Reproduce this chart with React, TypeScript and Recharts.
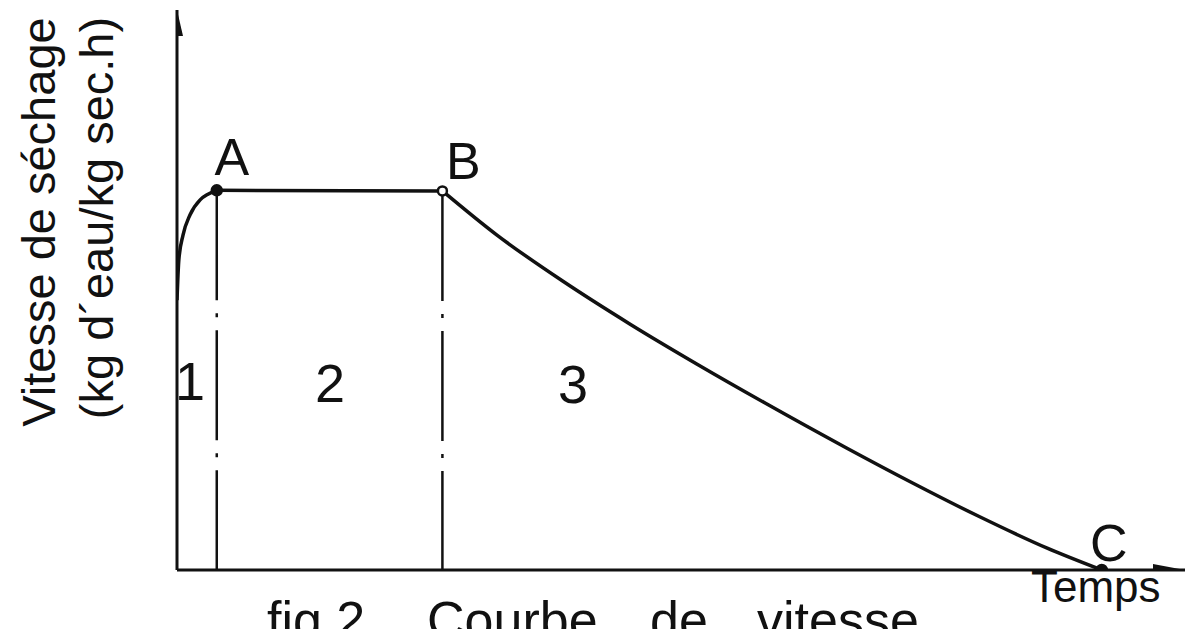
import { ComposedChart, Line, Scatter, XAxis, YAxis, ReferenceLine } from "recharts"

// Courbe de vitesse de séchage (fig. 2),
// unités arbitraires : temps en abscisse, vitesse en ordonnée.
const INK = "#111"
const FONT = "'Liberation Sans', Arial, sans-serif"

const T_MAX = 10.9
const V_MAX = 10

// zone 1 : mise en température
const tempsMontee = [0, 0.02, 0.065, 0.14, 0.25, 0.335, 0.43]
const vitesseMontee = [4.82, 5.54, 5.98, 6.34, 6.61, 6.71, 6.78]
// zone 2 : vitesse constante
const tempsPalier = [0.43, 2.87]
const vitessePalier = [6.78, 6.77]
// zone 3 : vitesse décroissante
const tempsDecroissance = [2.87, 3.46, 4.17, 4.9, 5.62, 6.34, 7.24, 7.96, 8.68, 9.41, 10.0]
const vitesseDecroissance = [6.77, 5.98, 5.16, 4.39, 3.68, 3.0, 2.18, 1.55, 0.95, 0.39, 0]

// points remarquables
const pointNoms = ["A", "B", "C"]
const pointTemps = [0.43, 2.87, 10.0]
const pointVitesse = [6.78, 6.77, 0]

const zoneNoms = ["1", "2", "3"]

const toRows = (ts: number[], vs: number[]) => ts.map((t, i) => ({ t, v: vs[i] }))
const montee = toRows(tempsMontee, vitesseMontee)
const palier = toRows(tempsPalier, vitessePalier)
const decroissance = toRows(tempsDecroissance, vitesseDecroissance)
const points = pointNoms.map((nom, i) => ({ nom, t: pointTemps[i], v: pointVitesse[i] }))

const LABEL_OFFSET: Record<string, [number, number]> = {
  A: [15, -15],
  B: [21, -12],
  C: [7, -9],
}

function PointMark(props: any) {
  const { cx, cy, payload } = props
  const creux = payload.nom === "B"
  const [dx, dy] = LABEL_OFFSET[payload.nom]
  return (
    <g>
      <circle cx={cx} cy={cy} r={creux ? 4.5 : 5} fill={creux ? "#fff" : INK} stroke={INK} strokeWidth={2.5} />
      <text x={cx + dx} y={cy + dy} textAnchor="middle" fontFamily={FONT} fontSize={52} fill={INK}>
        {payload.nom}
      </text>
    </g>
  )
}

function ArrowUp(props: any) {
  const { cx, cy } = props
  return <polygon points={`${cx},${cy} ${cx - 6},${cy + 26} ${cx + 6},${cy + 26}`} fill={INK} />
}

function ArrowRight(props: any) {
  const { cx, cy } = props
  return <polygon points={`${cx},${cy} ${cx - 32},${cy - 6} ${cx - 32},${cy + 6}`} fill={INK} />
}

const textStyle = { fontFamily: FONT, fill: INK }
const zoneX = [190, 330, 573]
const zoneY = [400, 402, 403]

export default function App() {
  return (
    <div style={{ position: "relative", width: 1201, height: 629, background: "#fff" }}>
      <style>{"body{margin:0;background:#fff}"}</style>
      <ComposedChart
        width={1201}
        height={629}
        margin={{ top: 10, right: 16, bottom: 59, left: 177 }}
      >
        <XAxis type="number" dataKey="t" domain={[0, T_MAX]} hide allowDataOverflow />
        <YAxis type="number" dataKey="v" domain={[0, V_MAX]} hide allowDataOverflow />

        {/* axes */}
        <ReferenceLine segment={[{ x: 0, y: 0 }, { x: 0, y: V_MAX }]} stroke={INK} strokeWidth={3} />
        <ReferenceLine segment={[{ x: 0, y: 0 }, { x: T_MAX, y: 0 }]} stroke={INK} strokeWidth={3} />

        {/* traits mixtes sous A et B */}
        {pointTemps.slice(0, 2).map((t, i) => (
          <ReferenceLine
            key={t}
            segment={[{ x: t, y: pointVitesse[i] }, { x: t, y: 0 }]}
            stroke={INK}
            strokeWidth={2.5}
            strokeDasharray="110 13 4 13"
          />
        ))}

        <Line data={montee} dataKey="v" type="monotone" stroke={INK} strokeWidth={3.5} dot={false} isAnimationActive={false} />
        <Line data={palier} dataKey="v" type="linear" stroke={INK} strokeWidth={3.5} dot={false} isAnimationActive={false} />
        <Line data={decroissance} dataKey="v" type="monotone" stroke={INK} strokeWidth={3.5} dot={false} isAnimationActive={false} />

        <Scatter data={[{ t: 0, v: V_MAX }]} dataKey="v" shape={ArrowUp} isAnimationActive={false} />
        <Scatter data={[{ t: T_MAX, v: 0 }]} dataKey="v" shape={ArrowRight} isAnimationActive={false} />
        <Scatter data={points} dataKey="v" shape={PointMark} isAnimationActive={false} />
      </ComposedChart>

      <svg
        width={1201}
        height={629}
        style={{ position: "absolute", left: 0, top: 0, pointerEvents: "none" }}
      >
        <text transform="translate(55,222) rotate(-90)" textAnchor="middle" fontSize={47} {...textStyle}>
          Vitesse de séchage
        </text>
        <text transform="translate(113,218) rotate(-90)" textAnchor="middle" fontSize={47} {...textStyle}>
          (kg d´eau/kg sec.h)
        </text>

        {zoneNoms.map((z, i) => (
          <text key={z} x={zoneX[i]} y={zoneY[i]} textAnchor="middle" fontSize={54} {...textStyle}>
            {z}
          </text>
        ))}

        <text x={1031} y={602} fontSize={44} {...textStyle}>Temps</text>

        <text y={638} fontSize={52} {...textStyle}>
          <tspan x={267}>fig.2</tspan>
          <tspan x={427}>Courbe</tspan>
          <tspan x={650}>de</tspan>
          <tspan x={757}>vitesse</tspan>
        </text>
      </svg>
    </div>
  )
}
